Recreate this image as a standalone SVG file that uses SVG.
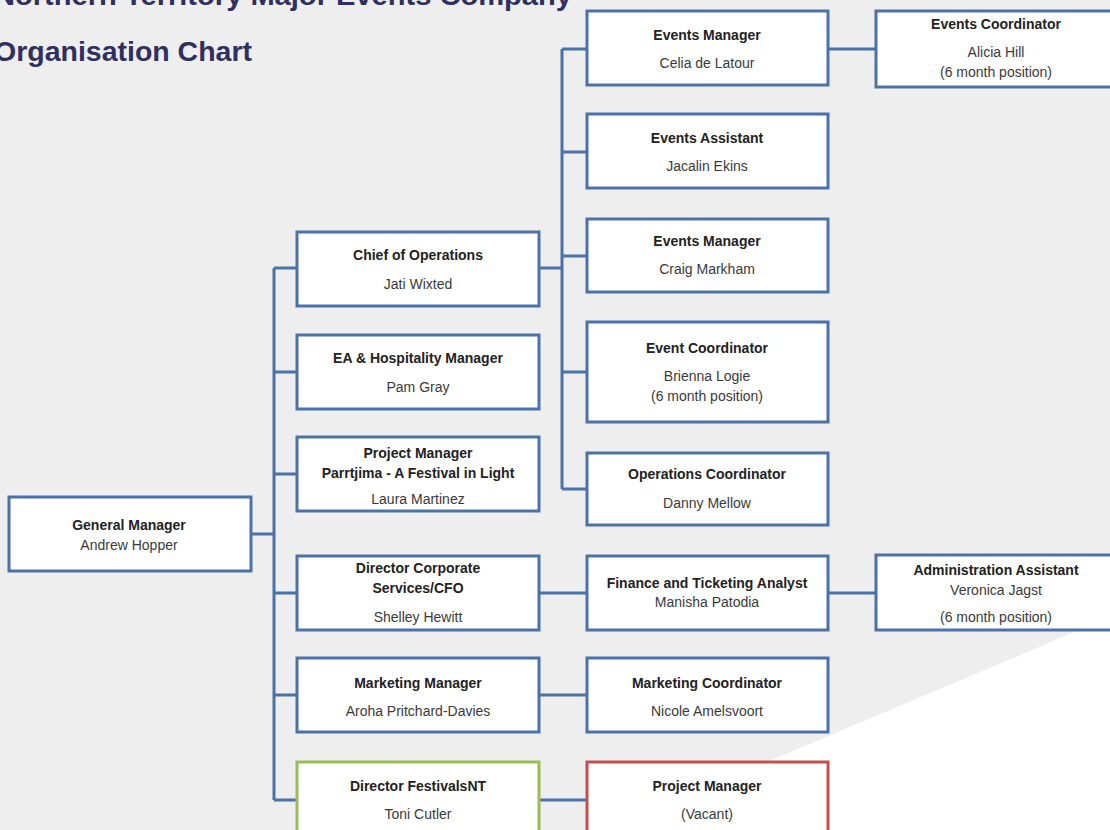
<svg xmlns="http://www.w3.org/2000/svg" width="1110" height="830" viewBox="0 0 1110 830">
<style>
.box{fill:#ffffff;stroke:#4a72a8;stroke-width:3}
.green{stroke:#9bbb59}
.red{stroke:#c0504d}
.con{fill:none;stroke:#4a72a8;stroke-width:3}
.t{font-family:"Liberation Sans",Arial,sans-serif;font-size:14px;font-weight:bold;fill:#222;text-anchor:middle}
.n{font-family:"Liberation Sans",Arial,sans-serif;font-size:14px;fill:#3a3a3a;text-anchor:middle}
.title{font-family:"Liberation Sans",Arial,sans-serif;font-size:28px;font-weight:bold;fill:#2f2f62}
</style>
<rect x="0" y="0" width="1110" height="830" fill="#eeeeee"/>
<polygon points="1110,617 1110,830 606,830" fill="#ffffff"/>
<text class="title" x="-6" y="5" textLength="578" lengthAdjust="spacingAndGlyphs">Northern Territory Major Events Company</text>
<text class="title" x="-6" y="61" textLength="258" lengthAdjust="spacingAndGlyphs">Organisation Chart</text>
<g id="connectors">
<path class="con" d="M251,534 H274 M274,268 V800 M274,268 H297 M274,372 H297 M274,474 H297 M274,593 H297 M274,695 H297 M274,800 H297"/>
<path class="con" d="M539,268 H562 M562,49 V489 M562,49 H587 M562,152 H587 M562,256 H587 M562,372 H587 M562,489 H587"/>
<path class="con" d="M828,49 H876 M539,593 H587 M828,593 H876 M539,695 H587 M539,800 H587"/>
</g>
<g id="gm"><rect class="box" x="9" y="497" width="242" height="74"/><text class="t" x="129" y="530">General Manager</text><text class="n" x="129" y="550">Andrew Hopper</text></g>
<g id="chief"><rect class="box" x="297" y="232" width="242" height="74"/><text class="t" x="418" y="260">Chief of Operations</text><text class="n" x="418" y="289">Jati Wixted</text></g>
<g id="ea"><rect class="box" x="297" y="335" width="242" height="74"/><text class="t" x="418" y="363">EA &amp; Hospitality Manager</text><text class="n" x="418" y="392">Pam Gray</text></g>
<g id="pm-parrtjima"><rect class="box" x="297" y="437" width="242" height="74"/><text class="t" x="418" y="458">Project Manager</text><text class="t" x="418" y="478">Parrtjima - A Festival in Light</text><text class="n" x="418" y="504">Laura Martinez</text></g>
<g id="dcs"><rect class="box" x="297" y="556" width="242" height="74"/><text class="t" x="418" y="573">Director Corporate</text><text class="t" x="418" y="593">Services/CFO</text><text class="n" x="418" y="622">Shelley Hewitt</text></g>
<g id="marketing"><rect class="box" x="297" y="658" width="242" height="74"/><text class="t" x="418" y="688">Marketing Manager</text><text class="n" x="418" y="716">Aroha Pritchard-Davies</text></g>
<g id="festivalsnt"><rect class="box green" x="297" y="762" width="242" height="74"/><text class="t" x="418" y="791">Director FestivalsNT</text><text class="n" x="418" y="819">Toni Cutler</text></g>
<g id="em-celia"><rect class="box" x="587" y="11" width="241" height="74"/><text class="t" x="707" y="40">Events Manager</text><text class="n" x="707" y="68">Celia de Latour</text></g>
<g id="ea-jacalin"><rect class="box" x="587" y="114" width="241" height="74"/><text class="t" x="707" y="143">Events Assistant</text><text class="n" x="707" y="171">Jacalin Ekins</text></g>
<g id="em-craig"><rect class="box" x="587" y="219" width="241" height="73"/><text class="t" x="707" y="246">Events Manager</text><text class="n" x="707" y="274">Craig Markham</text></g>
<g id="ec-brienna"><rect class="box" x="587" y="322" width="241" height="100"/><text class="t" x="707" y="353">Event Coordinator</text><text class="n" x="707" y="381">Brienna Logie</text><text class="n" x="707" y="401">(6 month position)</text></g>
<g id="oc-danny"><rect class="box" x="587" y="453" width="241" height="72"/><text class="t" x="707" y="479">Operations Coordinator</text><text class="n" x="707" y="508">Danny Mellow</text></g>
<g id="finance"><rect class="box" x="587" y="556" width="241" height="74"/><text class="t" x="707" y="588">Finance and Ticketing Analyst</text><text class="n" x="707" y="607">Manisha Patodia</text></g>
<g id="mkt-coord"><rect class="box" x="587" y="658" width="241" height="74"/><text class="t" x="707" y="688">Marketing Coordinator</text><text class="n" x="707" y="716">Nicole Amelsvoort</text></g>
<g id="pm-vacant"><rect class="box red" x="587" y="762" width="241" height="74"/><text class="t" x="707" y="791">Project Manager</text><text class="n" x="707" y="819">(Vacant)</text></g>
<g id="ec-alicia"><rect class="box" x="876" y="11" width="245" height="76"/><text class="t" x="996" y="29">Events Coordinator</text><text class="n" x="996" y="57">Alicia Hill</text><text class="n" x="996" y="77">(6 month position)</text></g>
<g id="admin"><rect class="box" x="876" y="555" width="245" height="75"/><text class="t" x="996" y="575">Administration Assistant</text><text class="n" x="996" y="595">Veronica Jagst</text><text class="n" x="996" y="622">(6 month position)</text></g>
</svg>
